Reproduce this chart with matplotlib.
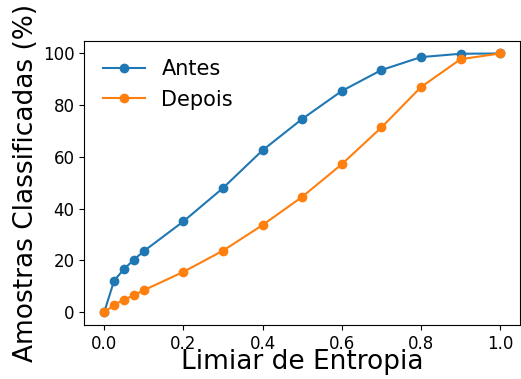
import matplotlib
matplotlib.use('Agg')
import matplotlib.pyplot as plt

limiar = [0.0, 0.025, 0.05, 0.075, 0.1, 0.2, 0.3, 0.4, 0.5, 0.6, 0.7, 0.8, 0.9, 1.0]
antes = [0.0, 12.2, 16.7, 20.3, 23.6, 35.1, 48.0, 62.6, 74.7, 85.5, 93.6, 98.6, 99.9, 100.0]
depois = [0.0, 2.8, 4.9, 6.5, 8.5, 15.6, 23.8, 33.7, 44.6, 57.2, 71.4, 87.0, 97.8, 100.0]

fig, ax = plt.subplots(figsize=(5.21, 3.79), dpi=100)
fig.subplots_adjust(left=0.162, right=0.998, bottom=0.142, top=0.893)

ax.plot(limiar, antes, marker='o', label='Antes')
ax.plot(limiar, depois, marker='o', label='Depois')

ax.set_xlabel('Limiar de Entropia', fontsize=19, labelpad=-2.5)
ax.set_ylabel('Amostras Classificadas (%)', fontsize=19, labelpad=3)
ax.tick_params(labelsize=12)
ax.legend(fontsize=15, frameon=False, loc='upper left')

fig.savefig('out.png', dpi=100)
